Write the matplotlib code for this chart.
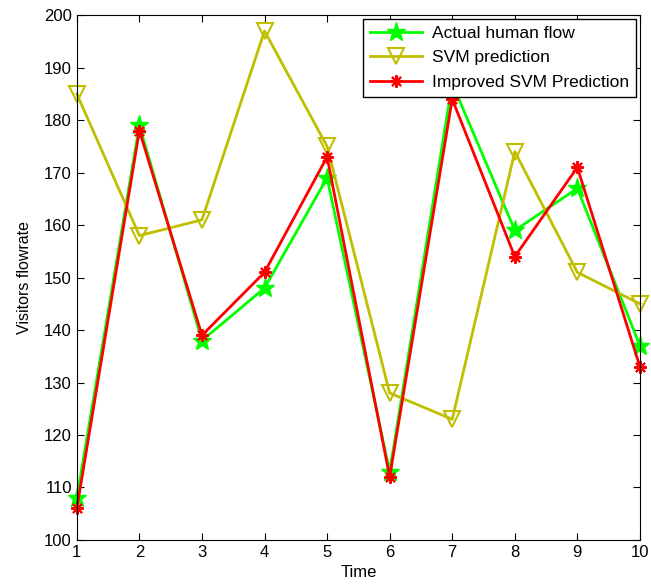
import numpy as np
import matplotlib.pyplot as plt

plt.rcParams['font.family'] = ['Liberation Sans', 'DejaVu Sans']

time = np.arange(1, 11)
actual_flow = [108, 179, 138, 148, 169, 113, 187, 159, 167, 137]
svm_pred = [185, 158, 161, 197, 175, 128, 123, 174, 151, 145]
improved_pred = [106, 178, 139, 151, 173, 112, 184, 154, 171, 133]

fig = plt.figure(figsize=(6.51, 5.85), dpi=100)
ax = fig.add_axes([0.118, 0.077, 0.865, 0.897])

ax.plot(time, actual_flow, color=(0, 1, 0), lw=2, marker='*', ms=14,
        mfc=(0, 1, 0), mec=(0, 1, 0), label='Actual human flow', clip_on=False)
ax.plot(time, svm_pred, color=(0.75, 0.75, 0), lw=2, marker='v', ms=11,
        mfc='none', mec=(0.75, 0.75, 0), mew=1.5, label='SVM prediction', clip_on=False)
ax.plot(time, improved_pred, color='red', lw=2, marker=(8, 2, 0), ms=9,
        mec='red', mew=1.5, label='Improved SVM Prediction', clip_on=False)

ax.set_xlim(1, 10)
ax.set_ylim(100, 200)
ax.set_xticks(time)
ax.set_yticks(np.arange(100, 201, 10))
ax.tick_params(direction='in', length=5, labelsize=12, top=True, right=True)
ax.set_xlabel('Time', fontsize=12, labelpad=4)
ax.set_ylabel('Visitors flowrate', fontsize=11.5, labelpad=9)

leg = ax.legend(loc='upper right', fontsize=12.5, fancybox=False, edgecolor='black',
                framealpha=1, borderaxespad=0.2, handlelength=3, labelspacing=0.55,
                borderpad=0.4, handletextpad=0.6)
leg.get_frame().set_linewidth(1)
leg.set_zorder(5)

fig.savefig('out.png', dpi=100)
